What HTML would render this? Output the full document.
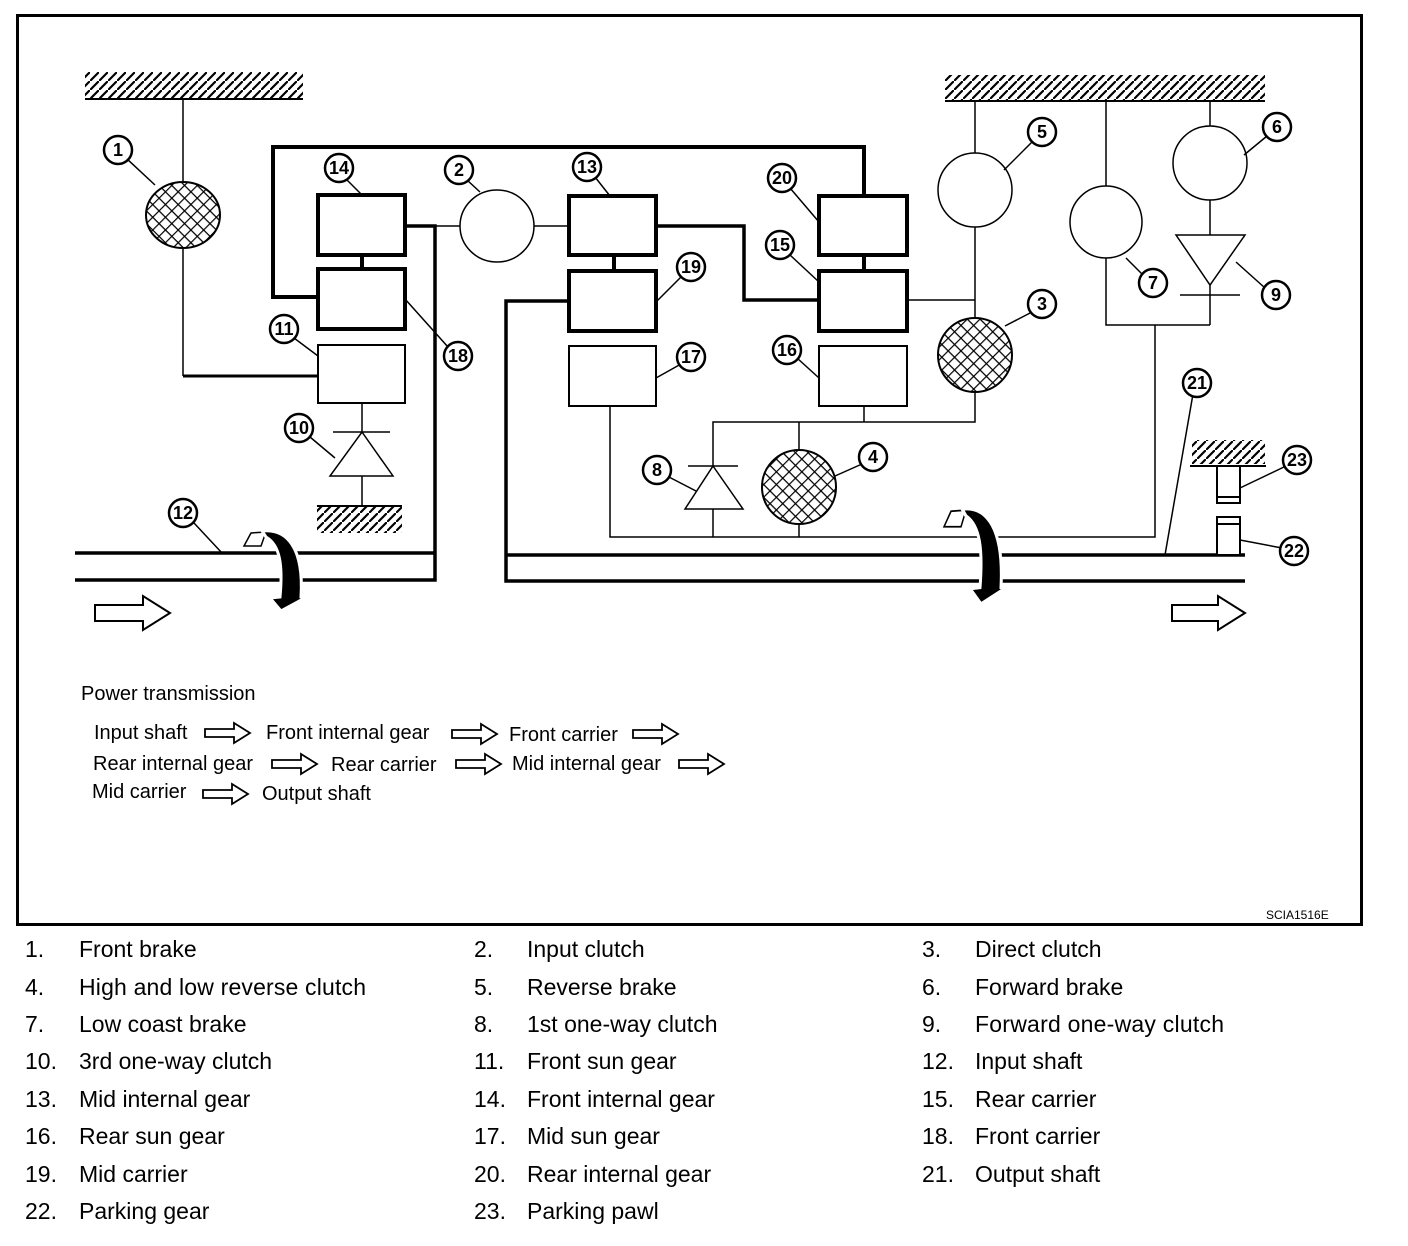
<!DOCTYPE html>
<html><head><meta charset="utf-8"><style>
html,body{margin:0;padding:0;background:#fff;}
svg{display:block;font-family:"Liberation Sans",Arial,sans-serif;}
.lb circle{fill:#fff;stroke:#000;stroke-width:2.5}
.lb text{font-weight:bold;font-size:18px;text-anchor:middle}
.leg text{font-size:23px}
</style></head><body>
<svg width="1408" height="1246" viewBox="0 0 1408 1246" xmlns="http://www.w3.org/2000/svg">
<defs>
<pattern id="h" patternUnits="userSpaceOnUse" width="9" height="9"><path d="M-2,11 L11,-2" stroke="#000" stroke-width="2.2"/></pattern>
<pattern id="x" patternUnits="userSpaceOnUse" width="9" height="9" patternTransform="rotate(45)"><rect width="9" height="9" fill="#fff"/><path d="M0,0H9M0,0V9" stroke="#000" stroke-width="2.4"/></pattern>
<g id="rot">
<path d="M244,546 L251,533 L266,532 L261,546 Z" fill="#fff" stroke="#000" stroke-width="1.5"/>
<path d="M262,531 C287,528 304,548 301,597 L305,598 L281,611 L270,598 L280,597 C283,565 280,545 266,537 Z" fill="#000" stroke="#fff" stroke-width="3"/>
</g>
</defs>
<rect x="17.5" y="15.5" width="1344" height="909" fill="none" stroke="#000" stroke-width="3"/>

<rect x="85" y="72" width="218" height="26" fill="url(#h)"/><line x1="85" y1="99" x2="303" y2="99" stroke="#000" stroke-width="2"/>
<rect x="945" y="75" width="320" height="25" fill="url(#h)"/><line x1="945" y1="101" x2="1265" y2="101" stroke="#000" stroke-width="2"/>
<rect x="317" y="507" width="85" height="26" fill="url(#h)"/><line x1="317" y1="506" x2="402" y2="506" stroke="#000" stroke-width="2"/>
<rect x="1192" y="440" width="73" height="24" fill="url(#h)"/><line x1="1190" y1="466" x2="1266" y2="466" stroke="#000" stroke-width="2"/>

<g fill="none" stroke="#000">
<g stroke-width="1.5">
<line x1="183" y1="99" x2="183" y2="182"/>
<line x1="183" y1="248" x2="183" y2="376"/>
<line x1="405" y1="226" x2="460" y2="226"/>
<line x1="534" y1="226" x2="569" y2="226"/>
<line x1="907" y1="300" x2="975" y2="300"/>
<line x1="975" y1="101" x2="975" y2="153"/>
<line x1="975" y1="227" x2="975" y2="318"/>
<line x1="1106" y1="101" x2="1106" y2="186"/>
<path d="M1106,258 V325 H1210"/>
<line x1="1210" y1="101" x2="1210" y2="126"/>
<line x1="1210" y1="200" x2="1210" y2="235"/>
<line x1="1210" y1="285" x2="1210" y2="325"/>
<line x1="1180" y1="295" x2="1240" y2="295"/>
<path d="M1155,325 V537 H610 V406"/>
<path d="M713,537 V509"/><path d="M713,466 V422 H975 V392"/>
<line x1="864" y1="406" x2="864" y2="422"/>
<line x1="799" y1="422" x2="799" y2="450"/><line x1="799" y1="524" x2="799" y2="537"/>
<line x1="688" y1="466" x2="738" y2="466"/>
<line x1="362" y1="403" x2="362" y2="432"/>
<line x1="333" y1="432" x2="390" y2="432"/>
<line x1="362" y1="476" x2="362" y2="506"/>
</g>
<line x1="183" y1="376" x2="318" y2="376" stroke-width="3"/>
<path d="M318,297 H273 V147 H864 V196" stroke-width="4"/>
<path d="M405,226 H435 V580 H75" stroke-width="3.5"/>
<line x1="75" y1="553" x2="435" y2="553" stroke-width="3.5"/>
<path d="M569,301 H506 V581 H1245" stroke-width="3.5"/>
<line x1="506" y1="555" x2="1245" y2="555" stroke-width="3.5"/>
<path d="M656,226 H744 V300 H819" stroke-width="3.5"/>
<line x1="362" y1="255" x2="362" y2="269" stroke-width="4"/>
<line x1="614" y1="255" x2="614" y2="271" stroke-width="4"/>
<line x1="864" y1="255" x2="864" y2="271" stroke-width="4"/>
<g stroke-width="4" fill="#fff">
<rect x="318" y="195" width="87" height="60"/><rect x="318" y="269" width="87" height="60"/>
<rect x="569" y="196" width="87" height="59"/><rect x="569" y="271" width="87" height="60"/>
<rect x="819" y="196" width="88" height="59"/><rect x="819" y="271" width="88" height="60"/>
</g>
<g stroke-width="2" fill="#fff">
<rect x="318" y="345" width="87" height="58"/>
<rect x="569" y="346" width="87" height="60"/>
<rect x="819" y="346" width="88" height="60"/>
</g>
<g stroke-width="1.5" fill="#fff">
<ellipse cx="497" cy="226" rx="37" ry="36"/>
<ellipse cx="975" cy="190" rx="37" ry="37"/>
<ellipse cx="1106" cy="222" rx="36" ry="36"/>
<ellipse cx="1210" cy="163" rx="37" ry="37"/>
</g>
<g stroke-width="2">
<ellipse cx="183" cy="215" rx="37" ry="33" fill="url(#x)"/>
<ellipse cx="975" cy="355" rx="37" ry="37" fill="url(#x)"/>
<ellipse cx="799" cy="487" rx="37" ry="37" fill="url(#x)"/>
</g>
<g stroke-width="1.5" fill="#fff">
<path d="M362,432 L393,476 L330,476 Z"/>
<path d="M713,466 L743,509 L685,509 Z"/>
<path d="M1176,235 L1245,235 L1210,285 Z"/>
</g>
<g stroke-width="2" fill="#fff">
<rect x="1217" y="466" width="23" height="37"/><line x1="1217" y1="497" x2="1240" y2="497"/>
<rect x="1217" y="517" width="23" height="38"/><line x1="1217" y1="524" x2="1240" y2="524"/>
</g>
<g stroke-width="2" fill="#fff">
<path d="M95,605 H143 V596 L170,613 L143,630 V621 H95 Z"/>
<path d="M1172,605 H1218 V596 L1245,613 L1218,630 V621 H1172 Z"/>
</g>
<g stroke-width="1.5">
<line x1="126" y1="158" x2="155" y2="185"/>
<line x1="345" y1="178" x2="362" y2="195"/>
<line x1="467" y1="180" x2="480" y2="192"/>
<line x1="595" y1="177" x2="610" y2="196"/>
<line x1="790" y1="188" x2="819" y2="222"/>
<line x1="790" y1="255" x2="819" y2="282"/>
<line x1="1032" y1="142" x2="1004" y2="170"/>
<line x1="1267" y1="136" x2="1244" y2="155"/>
<line x1="1143" y1="275" x2="1126" y2="258"/>
<line x1="1265" y1="288" x2="1236" y2="262"/>
<line x1="1032" y1="312" x2="1005" y2="326"/>
<line x1="681" y1="277" x2="656" y2="302"/>
<line x1="448" y1="347" x2="405" y2="299"/>
<line x1="294" y1="338" x2="318" y2="356"/>
<line x1="681" y1="364" x2="656" y2="378"/>
<line x1="797" y1="358" x2="819" y2="378"/>
<line x1="310" y1="437" x2="335" y2="458"/>
<line x1="667" y1="476" x2="696" y2="491"/>
<line x1="862" y1="464" x2="835" y2="476"/>
<line x1="194" y1="523" x2="222" y2="553"/>
<line x1="1193" y1="394" x2="1165" y2="555"/>
<line x1="1286" y1="466" x2="1240" y2="488"/>
<line x1="1282" y1="548" x2="1240" y2="540"/>
</g>
</g>
<use href="#rot"/>
<use href="#rot" transform="translate(700,-123) scale(1,1.19)"/>

<g class="lb">
<g transform="translate(118,150)"><circle r="14"/><text y="6">1</text></g>
<g transform="translate(339,168)"><circle r="14"/><text y="6">14</text></g>
<g transform="translate(459,170)"><circle r="14"/><text y="6">2</text></g>
<g transform="translate(587,167)"><circle r="14"/><text y="6">13</text></g>
<g transform="translate(782,178)"><circle r="14"/><text y="6">20</text></g>
<g transform="translate(780,245)"><circle r="14"/><text y="6">15</text></g>
<g transform="translate(1042,132)"><circle r="14"/><text y="6">5</text></g>
<g transform="translate(1277,127)"><circle r="14"/><text y="6">6</text></g>
<g transform="translate(1153,283)"><circle r="14"/><text y="6">7</text></g>
<g transform="translate(1276,295)"><circle r="14"/><text y="6">9</text></g>
<g transform="translate(1042,304)"><circle r="14"/><text y="6">3</text></g>
<g transform="translate(691,267)"><circle r="14"/><text y="6">19</text></g>
<g transform="translate(458,356)"><circle r="14"/><text y="6">18</text></g>
<g transform="translate(284,329)"><circle r="14"/><text y="6">11</text></g>
<g transform="translate(691,357)"><circle r="14"/><text y="6">17</text></g>
<g transform="translate(787,350)"><circle r="14"/><text y="6">16</text></g>
<g transform="translate(299,428)"><circle r="14"/><text y="6">10</text></g>
<g transform="translate(657,470)"><circle r="14"/><text y="6">8</text></g>
<g transform="translate(873,457)"><circle r="14"/><text y="6">4</text></g>
<g transform="translate(183,513)"><circle r="14"/><text y="6">12</text></g>
<g transform="translate(1197,383)"><circle r="14"/><text y="6">21</text></g>
<g transform="translate(1297,460)"><circle r="14"/><text y="6">23</text></g>
<g transform="translate(1294,551)"><circle r="14"/><text y="6">22</text></g>
</g>

<g font-size="20">
<text x="81" y="700">Power transmission</text>
<text x="94" y="739">Input shaft</text>
<text x="266" y="739">Front internal gear</text>
<text x="509" y="741">Front carrier</text>
<text x="93" y="770">Rear internal gear</text>
<text x="331" y="771">Rear carrier</text>
<text x="512" y="770">Mid internal gear</text>
<text x="92" y="798">Mid carrier</text>
<text x="262" y="800">Output shaft</text>
</g>
<g fill="#fff" stroke="#000" stroke-width="1.8">
<path id="sa" d="M205,729 H234 V723 L250,733 L234,743 V737 H205 Z"/>
<use href="#sa" transform="translate(247,1)"/>
<use href="#sa" transform="translate(428,1)"/>
<use href="#sa" transform="translate(67,31)"/>
<use href="#sa" transform="translate(251,31)"/>
<use href="#sa" transform="translate(474,31)"/>
<use href="#sa" transform="translate(-2,61)"/>
</g>
<text x="1266" y="919" font-size="12">SCIA1516E</text>

<g class="leg">
<text x="25" y="957">1.</text><text x="79" y="957">Front brake</text>
<text x="474" y="957">2.</text><text x="527" y="957">Input clutch</text>
<text x="922" y="957">3.</text><text x="975" y="957">Direct clutch</text>
<text x="25" y="995">4.</text><text x="79" y="995" textLength="287">High and low reverse clutch</text>
<text x="474" y="995">5.</text><text x="527" y="995">Reverse brake</text>
<text x="922" y="995">6.</text><text x="975" y="995">Forward brake</text>
<text x="25" y="1032">7.</text><text x="79" y="1032">Low coast brake</text>
<text x="474" y="1032">8.</text><text x="527" y="1032">1st one-way clutch</text>
<text x="922" y="1032">9.</text><text x="975" y="1032" textLength="249">Forward one-way clutch</text>
<text x="25" y="1069">10.</text><text x="79" y="1069">3rd one-way clutch</text>
<text x="474" y="1069">11.</text><text x="527" y="1069">Front sun gear</text>
<text x="922" y="1069">12.</text><text x="975" y="1069">Input shaft</text>
<text x="25" y="1107">13.</text><text x="79" y="1107">Mid internal gear</text>
<text x="474" y="1107">14.</text><text x="527" y="1107">Front internal gear</text>
<text x="922" y="1107">15.</text><text x="975" y="1107">Rear carrier</text>
<text x="25" y="1144">16.</text><text x="79" y="1144">Rear sun gear</text>
<text x="474" y="1144">17.</text><text x="527" y="1144">Mid sun gear</text>
<text x="922" y="1144">18.</text><text x="975" y="1144">Front carrier</text>
<text x="25" y="1182">19.</text><text x="79" y="1182">Mid carrier</text>
<text x="474" y="1182">20.</text><text x="527" y="1182">Rear internal gear</text>
<text x="922" y="1182">21.</text><text x="975" y="1182">Output shaft</text>
<text x="25" y="1219">22.</text><text x="79" y="1219">Parking gear</text>
<text x="474" y="1219">23.</text><text x="527" y="1219">Parking pawl</text>
</g>
</svg>
</body></html>
